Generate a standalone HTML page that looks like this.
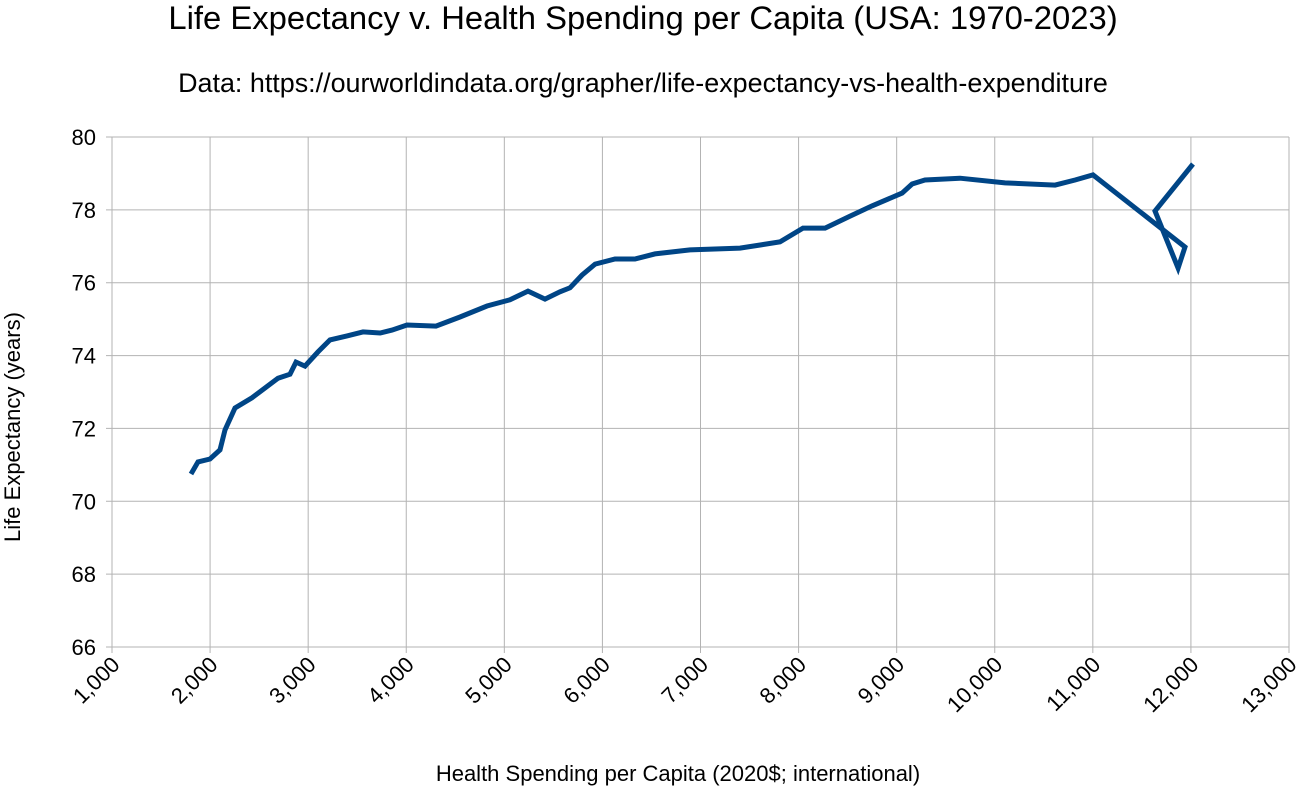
<!DOCTYPE html>
<html><head><meta charset="utf-8"><style>
body{margin:0;background:#fff;}
svg{display:block;font-family:"Liberation Sans",sans-serif;}
</style></head><body>
<svg id="chart" width="1296" height="791">
<text x="643" y="29" font-size="32.8" text-anchor="middle" fill="#000">Life Expectancy v. Health Spending per Capita (USA: 1970-2023)</text>
<text x="643" y="92" font-size="26.9" text-anchor="middle" fill="#000">Data: https://ourworldindata.org/grapher/life-expectancy-vs-health-expenditure</text>
<text x="678" y="781" font-size="22" text-anchor="middle" fill="#000">Health Spending per Capita (2020$; international)</text>
<text transform="translate(20,427) rotate(-90)" font-size="22" text-anchor="middle" fill="#000">Life Expectancy (years)</text>
<g id="grid"></g><g id="ticks"></g><g id="series"></g>
</svg>
<script>
const spending=[1805,1877,1999,2101,2152,2254,2427,2560,2692,2815,2876,2968,3100,3223,3396,3559,3733,3855,4008,4303,4548,4823,5058,5241,5415,5568,5670,5792,5925,6128,6332,6536,6893,7403,7811,8045,8270,8525,8749,9055,9157,9289,9646,10105,10615,10819,11002,11940,11869,11634,12021];
const lifeExp=[70.75,71.08,71.16,71.41,71.96,72.56,72.84,73.11,73.38,73.49,73.82,73.71,74.10,74.43,74.54,74.65,74.62,74.70,74.84,74.81,75.06,75.36,75.53,75.77,75.55,75.75,75.86,76.21,76.51,76.65,76.65,76.79,76.90,76.95,77.12,77.50,77.50,77.83,78.11,78.46,78.71,78.82,78.87,78.74,78.68,78.82,78.96,76.98,76.40,77.97,79.26];
const xTicks=[1000,2000,3000,4000,5000,6000,7000,8000,9000,10000,11000,12000,13000];
const yTicks=[66,68,70,72,74,76,78,80];
const X0=112,X1=1289,Y0=647,Y1=137;
const xs=v=>X0+(v-1000)/12000*(X1-X0);
const ys=v=>Y0-(v-66)/14*(Y0-Y1);
const NS="http://www.w3.org/2000/svg";
const grid=document.getElementById('grid'),ticks=document.getElementById('ticks'),series=document.getElementById('series');
function mk(t,a,p){const e=document.createElementNS(NS,t);for(const k in a)e.setAttribute(k,a[k]);p.appendChild(e);return e;}
xTicks.forEach(v=>{
 const l=mk('line',{x1:xs(v),x2:xs(v),y1:Y1,y2:Y0+6,stroke:'#b3b3b3','stroke-width':1},grid);
 
 
 const t=mk('text',{x:xs(v)+9,y:Y0+19,'font-size':22,'text-anchor':'end',transform:`rotate(-45 ${xs(v)+9} ${Y0+19})`},ticks);
 t.textContent=v.toLocaleString('en-US');
 
 
});
yTicks.forEach(v=>{
 const l=mk('line',{x1:X0-6,x2:X1,y1:ys(v),y2:ys(v),stroke:'#b3b3b3','stroke-width':1},grid);
 
 
 const t=mk('text',{x:X0-16,y:ys(v)+8,'font-size':22,'text-anchor':'end'},ticks);
 t.textContent=v;
 
 
});
const pts=spending.map((s,i)=>xs(s).toFixed(1)+','+ys(lifeExp[i]).toFixed(1)).join(' ');
const pl=mk('polyline',{points:pts,fill:'none',stroke:'#004586','stroke-width':5,'stroke-linejoin':'miter','stroke-miterlimit':3},series);


</script>
</body></html>
